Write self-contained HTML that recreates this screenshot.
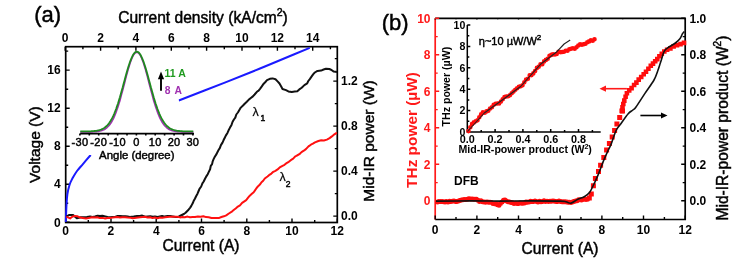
<!DOCTYPE html>
<html><head><meta charset="utf-8"><style>html,body{margin:0;padding:0;background:#fff;overflow:hidden}svg{display:block;filter:blur(0.4px)}</style></head>
<body><svg width="750" height="268" viewBox="0 0 750 268" font-family='"Liberation Sans", sans-serif'>
<rect width="750" height="268" fill="#fff"/>
<g stroke="#000" stroke-width="1.7" fill="none">
<rect x="65.7" y="46.7" width="271.6" height="175.8"/>
<path d="M65.7,222.5 v-4 M88.3,222.5 v-2.5 M111.0,222.5 v-4 M133.6,222.5 v-2.5 M156.2,222.5 v-4 M178.9,222.5 v-2.5 M201.5,222.5 v-4 M224.1,222.5 v-2.5 M246.8,222.5 v-4 M269.4,222.5 v-2.5 M292.0,222.5 v-4 M314.7,222.5 v-2.5 M337.3,222.5 v-4 M65.2,46.7 v4 M82.9,46.7 v2.5 M100.6,46.7 v4 M118.2,46.7 v2.5 M135.9,46.7 v4 M153.6,46.7 v2.5 M171.3,46.7 v4 M189.0,46.7 v2.5 M206.6,46.7 v4 M224.3,46.7 v2.5 M242.0,46.7 v4 M259.7,46.7 v2.5 M277.4,46.7 v4 M295.0,46.7 v2.5 M312.7,46.7 v4 M330.4,46.7 v2.5 M65.7,222.3 h4 M65.7,203.3 h2.5 M65.7,184.3 h4 M65.7,165.2 h2.5 M65.7,146.2 h4 M65.7,127.2 h2.5 M65.7,108.2 h4 M65.7,89.2 h2.5 M65.7,70.1 h4 M65.7,51.1 h2.5 M337.3,216.1 h-4 M337.3,193.6 h-2.5 M337.3,171.1 h-4 M337.3,148.6 h-2.5 M337.3,126.1 h-4 M337.3,103.6 h-2.5 M337.3,81.1 h-4 M337.3,58.6 h-2.5" stroke-width="1.4"/>
</g>
<path d="M65.8,222.0 C65.9,219.2 66.2,209.7 66.5,205.0 C66.8,200.3 66.9,197.3 67.4,194.0 C67.9,190.7 68.7,187.6 69.5,185.0 C70.3,182.4 71.2,180.8 72.4,178.5 C73.7,176.2 75.2,173.4 77.0,171.0 C78.8,168.6 80.6,166.8 82.9,164.1 C85.2,161.4 89.4,156.5 90.7,155.0" stroke="#1a1aff" stroke-width="2" fill="none"/>
<path d="M178.8,100.5 C186.5,97.5 211.3,87.9 224.8,82.6 C238.3,77.3 248.5,73.2 260.0,68.5 C271.5,63.8 285.4,58.0 293.7,54.5 C302.0,51.0 307.0,48.9 309.7,47.8" stroke="#1a1aff" stroke-width="2" fill="none"/>
<path d="M66.4,216.5 L68.9,215.1 L73.1,215.1 L76.8,218.3 L80.9,217.2 L83.8,217.3 L86.9,217.0 L90.1,216.5 L92.5,216.9 L94.9,216.5 L97.6,215.7 L100.1,216.1 L102.4,215.7 L105.2,216.4 L107.6,217.0 L110.1,217.2 L112.4,217.0 L115.0,216.9 L117.7,215.9 L119.8,215.9 L122.8,216.2 L125.3,216.3 L127.7,216.6 L129.9,216.9 L133.7,216.5 L137.1,215.9 L139.7,216.1 L142.2,215.6 L145.2,216.8 L147.7,216.5 L150.3,216.3 L153.0,216.8 L154.9,216.4 L157.7,217.0 L159.8,216.5 L162.1,215.9 L164.6,216.6 L167.6,216.1 L170.1,216.1 L172.8,216.5 L175.6,217.1 L177.9,217.1 L179.9,216.0 L183.9,214.0 L185.6,212.8 L188.0,210.3 L190.2,207.6 L191.3,205.9 L192.7,203.3 L193.6,201.1 L194.9,198.8 L196.1,196.3 L197.5,193.7 L198.4,191.5 L199.5,188.8 L201.2,186.5 L202.4,183.4 L203.7,181.5 L204.9,179.0 L206.5,176.1 L207.7,174.2 L208.8,171.9 L210.1,169.3 L210.8,165.8 L212.1,164.1 L212.7,161.3 L213.6,159.1 L214.8,156.8 L216.5,154.1 L217.4,152.2 L218.7,149.8 L219.8,148.1 L220.9,145.1 L222.5,142.6 L223.5,140.3 L224.9,137.5 L225.8,135.6 L227.6,132.7 L228.9,129.7 L230.0,127.6 L231.5,124.9 L232.5,122.0 L233.9,119.5 L235.3,117.6 L236.3,114.5 L237.9,112.5 L239.5,109.8 L240.8,107.6 L243.0,105.5 L244.7,103.7 L246.8,101.7 L249.1,99.4 L250.5,98.3 L252.9,96.4 L254.6,94.5 L256.9,91.8 L258.6,90.6 L260.2,88.6 L262.0,86.1 L263.7,83.7 L265.4,82.0 L267.0,80.2 L269.9,78.8 L272.6,78.4 L275.5,79.2 L277.8,81.6 L279.5,83.5 L281.2,86.5 L282.5,89.0 L286.0,90.1 L288.4,91.4 L291.8,92.1 L294.7,91.6 L297.3,91.2 L299.3,89.4 L301.7,87.7 L304.4,85.1 L307.2,83.4 L308.3,81.0 L309.8,79.1 L311.5,76.7 L313.3,74.1 L314.8,72.5 L317.5,70.9 L321.1,70.6 L323.6,69.5 L326.0,68.7 L329.4,69.0 L331.8,70.2 L333.8,71.6 L337.0,72.0" stroke="#111" stroke-width="2" fill="none" stroke-linejoin="round"/>
<path d="M66.3,216.6 L70.1,218.4 L72.2,216.8 L74.9,215.9 L77.6,216.3 L80.2,217.6 L82.7,217.9 L86.0,218.4 L88.7,218.1 L91.8,217.2 L95.0,217.4 L97.2,217.3 L99.9,218.1 L102.7,217.9 L105.2,218.5 L107.4,218.0 L109.8,217.9 L112.6,217.6 L115.1,217.2 L117.7,217.1 L119.9,217.4 L122.4,217.2 L125.1,217.3 L127.6,217.6 L130.7,217.7 L132.8,218.3 L136.2,217.8 L140.1,217.3 L142.5,217.1 L145.0,216.8 L147.6,217.5 L150.1,217.2 L152.6,218.1 L154.8,217.6 L157.5,218.2 L159.9,217.5 L162.4,217.7 L165.1,217.2 L167.4,216.9 L169.9,216.7 L172.2,216.8 L174.9,216.8 L177.3,216.7 L180.1,217.4 L182.3,217.1 L184.8,217.2 L187.6,216.6 L189.9,217.2 L192.9,216.9 L195.0,217.0 L197.9,216.5 L200.6,216.7 L203.3,216.2 L206.1,217.1 L208.7,217.2 L211.5,218.0 L214.2,218.0 L216.5,217.9 L219.3,217.9 L221.4,217.0 L223.9,216.3 L226.2,215.3 L228.9,213.5 L232.2,211.3 L234.0,209.8 L235.7,208.5 L237.9,206.6 L240.0,205.4 L242.1,202.9 L244.0,201.6 L246.2,200.1 L248.1,197.7 L249.8,195.7 L251.6,194.1 L253.7,192.3 L255.0,190.4 L256.6,188.0 L258.4,185.9 L259.9,184.6 L261.5,182.3 L263.2,180.8 L264.8,178.5 L267.5,176.5 L269.0,175.2 L271.4,173.6 L273.3,171.8 L275.4,170.8 L277.6,169.4 L280.2,167.1 L282.5,165.8 L284.5,164.8 L286.1,163.4 L288.8,161.8 L290.8,160.2 L293.2,158.7 L295.0,156.7 L297.0,155.5 L299.4,154.2 L301.5,152.1 L303.8,150.7 L305.9,149.1 L308.5,146.4 L310.9,144.7 L312.9,143.7 L315.0,142.4 L318.4,141.0 L321.2,140.3 L323.9,140.5 L326.9,139.6 L329.6,138.1 L331.9,136.4 L334.4,134.3 L335.9,133.3 L337.0,133.0" stroke="#ff1010" stroke-width="2" fill="none" stroke-linejoin="round"/>
<rect x="78" y="52" width="100.5" height="103" fill="#fff"/>
<path d="M80.3,132.0 L81.3,132.0 L82.2,132.0 L83.1,132.0 L84.1,132.0 L85.0,132.0 L86.0,132.0 L86.9,132.0 L87.8,132.0 L88.8,132.0 L89.7,131.9 L90.7,131.9 L91.6,131.9 L92.5,131.9 L93.5,131.8 L94.4,131.8 L95.4,131.7 L96.3,131.6 L97.3,131.5 L98.2,131.4 L99.1,131.2 L100.1,131.0 L101.0,130.8 L102.0,130.5 L102.9,130.1 L103.8,129.7 L104.8,129.2 L105.7,128.5 L106.7,127.8 L107.6,127.0 L108.6,126.0 L109.5,124.9 L110.4,123.7 L111.4,122.3 L112.3,120.6 L113.3,118.8 L114.2,116.9 L115.1,114.7 L116.1,112.3 L117.0,109.6 L118.0,106.8 L118.9,103.8 L119.9,100.7 L120.8,97.4 L121.7,93.9 L122.7,90.3 L123.6,86.7 L124.6,83.0 L125.5,79.4 L126.4,75.8 L127.4,72.3 L128.3,68.9 L129.3,65.7 L130.2,62.8 L131.2,60.2 L132.1,57.8 L133.0,55.9 L134.0,54.3 L134.9,53.2 L135.9,52.5 L136.8,52.3 L137.7,52.5 L138.7,53.2 L139.6,54.3 L140.6,55.9 L141.5,57.8 L142.4,60.2 L143.4,62.8 L144.3,65.7 L145.3,68.9 L146.2,72.3 L147.2,75.8 L148.1,79.4 L149.0,83.0 L150.0,86.7 L150.9,90.3 L151.9,93.9 L152.8,97.4 L153.7,100.7 L154.7,103.8 L155.6,106.8 L156.6,109.6 L157.5,112.3 L158.5,114.7 L159.4,116.9 L160.3,118.8 L161.3,120.6 L162.2,122.3 L163.2,123.7 L164.1,124.9 L165.0,126.0 L166.0,127.0 L166.9,127.8 L167.9,128.5 L168.8,129.2 L169.8,129.7 L170.7,130.1 L171.6,130.5 L172.6,130.8 L173.5,131.0 L174.5,131.2 L175.4,131.4 L176.3,131.5 L177.3,131.6 L178.2,131.7 L179.2,131.8 L180.1,131.8 L181.1,131.9 L182.0,131.9 L182.9,131.9 L183.9,131.9 L184.8,132.0 L185.8,132.0 L186.7,132.0 L187.6,132.0 L188.6,132.0 L189.5,132.0 L190.5,132.0 L191.4,132.0 L192.3,132.0 L193.3,132.0" stroke="#a030b0" stroke-width="1.6" fill="none"/>
<path d="M80.3,131.4 L81.3,131.4 L82.2,131.4 L83.1,131.4 L84.1,131.4 L85.0,131.4 L86.0,131.4 L86.9,131.3 L87.8,131.3 L88.8,131.3 L89.7,131.3 L90.7,131.3 L91.6,131.2 L92.5,131.2 L93.5,131.1 L94.4,131.0 L95.4,130.9 L96.3,130.8 L97.3,130.6 L98.2,130.4 L99.1,130.2 L100.1,129.9 L101.0,129.6 L102.0,129.2 L102.9,128.7 L103.8,128.2 L104.8,127.6 L105.7,126.8 L106.7,126.0 L107.6,125.0 L108.6,123.9 L109.5,122.6 L110.4,121.2 L111.4,119.6 L112.3,117.9 L113.3,115.9 L114.2,113.8 L115.1,111.5 L116.1,109.0 L117.0,106.3 L118.0,103.5 L118.9,100.5 L119.9,97.3 L120.8,94.0 L121.7,90.7 L122.7,87.2 L123.6,83.7 L124.6,80.2 L125.5,76.8 L126.4,73.4 L127.4,70.1 L128.3,67.0 L129.3,64.0 L130.2,61.3 L131.2,58.9 L132.1,56.8 L133.0,55.0 L134.0,53.6 L134.9,52.5 L135.9,51.9 L136.8,51.7 L137.7,51.9 L138.7,52.5 L139.6,53.6 L140.6,55.0 L141.5,56.8 L142.4,58.9 L143.4,61.3 L144.3,64.0 L145.3,67.0 L146.2,70.1 L147.2,73.4 L148.1,76.8 L149.0,80.2 L150.0,83.7 L150.9,87.2 L151.9,90.7 L152.8,94.0 L153.7,97.3 L154.7,100.5 L155.6,103.5 L156.6,106.3 L157.5,109.0 L158.5,111.5 L159.4,113.8 L160.3,115.9 L161.3,117.9 L162.2,119.6 L163.2,121.2 L164.1,122.6 L165.0,123.9 L166.0,125.0 L166.9,126.0 L167.9,126.8 L168.8,127.6 L169.8,128.2 L170.7,128.7 L171.6,129.2 L172.6,129.6 L173.5,129.9 L174.5,130.2 L175.4,130.4 L176.3,130.6 L177.3,130.8 L178.2,130.9 L179.2,131.0 L180.1,131.1 L181.1,131.2 L182.0,131.2 L182.9,131.3 L183.9,131.3 L184.8,131.3 L185.8,131.3 L186.7,131.3 L187.6,131.4 L188.6,131.4 L189.5,131.4 L190.5,131.4 L191.4,131.4 L192.3,131.4 L193.3,131.4" stroke="#1f8a1f" stroke-width="1.8" fill="none"/>
<path d="M80.2,133.6 H194 M79.9,133.6 v2 M89.3,133.6 v2 M98.7,133.6 v2 M108.2,133.6 v2 M117.6,133.6 v2 M127.0,133.6 v2 M136.4,133.6 v2 M145.8,133.6 v2 M155.2,133.6 v2 M164.6,133.6 v2 M174.1,133.6 v2 M183.5,133.6 v2 M192.9,133.6 v2" stroke="#000" stroke-width="1.6" fill="none"/>
<path d="M161,90.7 V77" stroke="#000" stroke-width="1.9"/>
<path d="M157.9,79.2 L161,71.5 L164.1,79.2 Z" fill="#000"/>
<path d="M435.2,219.5 H685.2 V18.4 H435.2" stroke="#000" stroke-width="1.7" fill="none"/>
<path d="M435.2,18.4 V219.5" stroke="#ff1a1a" stroke-width="1.7" fill="none"/>
<path d="M435.2,219.5 v-4 M435.2,18.4 v1.2 M456.0,219.5 v-2.5 M456.0,18.4 v0.75 M476.9,219.5 v-4 M476.9,18.4 v1.2 M497.7,219.5 v-2.5 M497.7,18.4 v0.75 M518.5,219.5 v-4 M518.5,18.4 v1.2 M539.4,219.5 v-2.5 M539.4,18.4 v0.75 M560.2,219.5 v-4 M560.2,18.4 v1.2 M581.0,219.5 v-2.5 M581.0,18.4 v0.75 M601.9,219.5 v-4 M601.9,18.4 v1.2 M622.7,219.5 v-2.5 M622.7,18.4 v0.75 M643.5,219.5 v-4 M643.5,18.4 v1.2 M664.4,219.5 v-2.5 M664.4,18.4 v0.75 M685.2,219.5 v-4 M685.2,18.4 v1.2 M685.2,200.8 h-4 M685.2,182.6 h-2.5 M685.2,164.3 h-4 M685.2,146.1 h-2.5 M685.2,127.8 h-4 M685.2,109.6 h-2.5 M685.2,91.3 h-4 M685.2,73.1 h-2.5 M685.2,54.8 h-4 M685.2,36.6 h-2.5 M685.2,18.3 h-4" stroke="#000" stroke-width="1.4" fill="none"/>
<path d="M435.2,200.8 h4 M435.2,182.6 h2.5 M435.2,164.3 h4 M435.2,146.1 h2.5 M435.2,127.8 h4 M435.2,109.6 h2.5 M435.2,91.3 h4 M435.2,73.1 h2.5 M435.2,54.8 h4 M435.2,36.6 h2.5 M435.2,18.3 h4" stroke="#ff1a1a" stroke-width="1.4" fill="none"/>
<path d="M437.5,202.0h0 M439.0,201.6h0 M440.5,201.5h0 M442.0,201.6h0 M443.5,201.7h0 M445.0,202.0h0 M446.5,201.6h0 M448.0,202.0h0 M449.5,201.3h0 M451.0,201.4h0 M452.5,201.2h0 M454.0,201.1h0 M455.5,201.6h0 M457.0,201.4h0 M458.5,200.9h0 M460.0,200.5h0 M461.5,200.1h0 M463.0,199.8h0 M464.5,199.5h0 M466.0,199.4h0 M467.5,199.3h0 M469.0,198.8h0 M470.5,199.1h0 M472.0,198.9h0 M473.5,199.2h0 M475.0,199.3h0 M476.5,199.3h0 M478.0,200.2h0 M479.5,201.4h0 M481.0,200.8h0 M482.5,201.7h0 M484.0,201.9h0 M485.5,202.2h0 M487.0,201.9h0 M488.5,202.2h0 M490.0,202.3h0 M491.5,202.6h0 M493.0,203.4h0 M494.5,203.7h0 M496.0,203.5h0 M497.5,204.8h0 M499.0,205.2h0 M500.5,203.6h0 M502.0,201.9h0 M503.5,200.2h0 M505.0,200.0h0 M506.5,200.9h0 M508.0,201.7h0 M509.5,202.0h0 M511.0,202.4h0 M512.5,202.8h0 M514.0,203.6h0 M515.5,203.2h0 M517.0,203.5h0 M518.5,203.5h0 M520.0,203.1h0 M521.5,203.2h0 M523.0,203.3h0 M524.5,203.0h0 M526.0,201.9h0 M527.5,202.2h0 M529.0,201.9h0 M530.5,201.2h0 M532.0,201.5h0 M533.5,201.4h0 M535.0,201.1h0 M536.5,201.5h0 M538.0,201.9h0 M539.5,201.2h0 M541.0,201.7h0 M542.5,201.4h0 M544.0,200.8h0 M545.5,201.6h0 M547.0,201.3h0 M548.5,201.6h0 M550.0,201.3h0 M551.5,201.3h0 M553.0,200.9h0 M554.5,201.3h0 M556.0,201.4h0 M557.5,201.4h0 M559.0,201.0h0 M560.5,201.6h0 M562.0,201.7h0 M563.5,201.7h0 M565.0,201.7h0 M566.5,201.9h0 M568.0,202.2h0 M569.5,202.3h0 M571.0,202.5h0 M572.5,202.1h0 M574.0,201.4h0 M575.5,201.1h0 M577.0,200.8h0 M578.5,199.8h0 M580.0,199.7h0 M581.5,199.9h0 M583.0,199.4h0 M584.5,199.0h0 M586.0,199.6h0 M587.5,199.2h0" stroke="#ff0c0c" stroke-width="5" stroke-linecap="round" fill="none"/>
<path d="M586.8,195.6h5v5h-5z M588.8,191.5h5v5h-5z M590.9,183.3h5v5h-5z M592.9,176.1h5v5h-5z M596.0,168.9h5v5h-5z M598.1,162.8h5v5h-5z M601.3,155.0h5v5h-5z M604.1,147.5h5v5h-5z M606.9,141.0h5v5h-5z M609.7,134.5h5v5h-5z M612.1,128.0h5v5h-5z M614.4,121.5h5v5h-5z M617.2,115.0h5v5h-5z M620.0,108.5h5v5h-5z" fill="#ff0c0c" stroke="none"/>
<path d="M619.4,108.6h4.6v4.6h-4.6z M620.2,105.1h4.6v4.6h-4.6z M621.0,101.7h4.6v4.6h-4.6z M622.0,98.3h4.6v4.6h-4.6z M623.3,94.5h4.6v4.6h-4.6z M624.6,90.9h4.6v4.6h-4.6z M626.9,88.1h4.6v4.6h-4.6z M629.3,85.8h4.6v4.6h-4.6z M631.8,82.7h4.6v4.6h-4.6z M634.1,80.3h4.6v4.6h-4.6z M636.4,77.3h4.6v4.6h-4.6z M638.9,74.7h4.6v4.6h-4.6z M641.4,72.0h4.6v4.6h-4.6z M643.7,69.4h4.6v4.6h-4.6z M646.1,66.4h4.6v4.6h-4.6z M648.5,63.5h4.6v4.6h-4.6z M650.7,61.3h4.6v4.6h-4.6z M652.9,59.0h4.6v4.6h-4.6z M655.0,56.8h4.6v4.6h-4.6z M657.1,54.0h4.6v4.6h-4.6z M659.5,51.4h4.6v4.6h-4.6z M662.0,49.2h4.6v4.6h-4.6z M664.8,47.5h4.6v4.6h-4.6z M668.1,46.1h4.6v4.6h-4.6z M671.3,44.1h4.6v4.6h-4.6z M674.7,43.0h4.6v4.6h-4.6z M678.2,41.8h4.6v4.6h-4.6z M681.7,40.6h4.6v4.6h-4.6z" fill="#ff0c0c" stroke="none"/>
<path d="M436.0,201.1 C441.7,201.1 459.3,200.9 470.0,200.9 C480.7,200.9 490.0,201.1 500.0,201.1 C510.0,201.1 520.0,200.9 530.0,200.9 C540.0,200.9 554.0,200.9 560.0,201.1 C566.0,201.2 564.3,201.4 566.0,201.8 C567.7,202.2 568.9,203.4 570.4,203.3 C571.9,203.2 573.7,201.7 575.0,201.0 C576.3,200.3 576.7,199.8 578.2,199.1 C579.8,198.4 582.4,197.8 584.3,196.7 C586.2,195.6 588.0,194.3 589.5,192.5 C591.0,190.7 591.6,188.8 593.0,186.0 C594.4,183.2 596.1,179.7 597.9,175.4 C599.7,171.1 602.0,164.6 603.7,160.4 C605.4,156.2 607.0,152.8 608.3,150.0 C609.6,147.2 610.1,146.8 611.4,143.5 C612.7,140.2 614.5,133.8 616.1,130.5 C617.7,127.2 618.7,126.8 620.7,124.0 C622.7,121.2 626.2,116.0 628.2,113.7 C630.2,111.4 631.6,111.1 632.9,110.0 C634.2,108.9 634.0,109.7 636.0,107.0 C638.0,104.3 641.8,98.1 644.8,93.6 C647.8,89.1 651.9,83.8 654.0,80.0 C656.1,76.2 656.6,73.9 657.7,71.0 C658.8,68.1 659.4,65.9 660.5,62.6 C661.6,59.3 663.0,53.7 664.3,51.2 C665.5,48.7 666.1,49.1 668.0,47.7 C669.9,46.3 673.4,44.5 675.4,43.0 C677.4,41.5 678.9,39.9 680.1,38.4 C681.3,36.9 681.8,34.9 682.5,33.7 C683.2,32.6 684.0,31.9 684.3,31.5" stroke="#111" stroke-width="1.6" fill="none"/>
<path d="M626.9,88.7 H604" stroke="#ff1a1a" stroke-width="1.6"/>
<path d="M606,85.6 L599.5,88.7 L606,91.8 Z" fill="#ff1a1a"/>
<path d="M640.4,115.5 H663" stroke="#000" stroke-width="1.6"/>
<path d="M661,112.4 L667.5,115.5 L661,118.6 Z" fill="#000"/>
<path d="M467.3,25 V132 H600.7 M467.3,132.0 h3 M467.3,121.3 h2 M467.3,110.6 h3 M467.3,99.9 h2 M467.3,89.2 h3 M467.3,78.5 h2 M467.3,67.8 h3 M467.3,57.1 h2 M467.3,46.4 h3 M467.3,35.7 h2 M467.3,25.0 h3 M481.2,132 v-2 M495.1,132 v-3 M509.0,132 v-2 M522.9,132 v-3 M536.8,132 v-2 M550.7,132 v-3 M564.6,132 v-2 M578.5,132 v-3 M592.4,132 v-2" stroke="#000" stroke-width="1.5" fill="none"/>
<path d="M468.5,131.1h0 M470.3,127.3h0 M472.1,123.9h0 M473.9,122.4h0 M475.7,121.3h0 M477.5,120.3h0 M479.3,117.3h0 M481.1,114.4h0 M482.9,112.3h0 M484.7,112.8h0 M486.5,111.4h0 M488.3,110.8h0 M490.1,108.5h0 M491.9,107.3h0 M493.7,104.8h0 M495.5,103.7h0 M497.3,103.5h0 M499.1,103.4h0 M500.9,101.6h0 M502.7,99.2h0 M504.5,97.0h0 M506.3,96.5h0 M508.1,96.3h0 M509.9,95.3h0 M511.7,93.2h0 M513.5,91.6h0 M515.3,89.8h0 M517.1,88.2h0 M518.9,86.7h0 M520.7,86.3h0 M522.5,85.3h0 M524.3,82.3h0 M526.1,79.5h0 M527.9,78.8h0 M529.7,75.3h0 M531.5,75.1h0 M533.3,73.4h0 M535.1,71.0h0 M536.9,67.9h0 M538.7,66.7h0 M540.5,64.2h0 M542.3,64.2h0 M544.1,61.4h0 M545.9,59.9h0 M547.7,58.7h0 M549.5,55.7h0 M551.3,54.9h0 M553.1,54.4h0 M554.9,54.5h0 M556.7,54.0h0 M558.5,51.8h0 M560.3,52.1h0 M562.1,52.0h0 M563.9,51.8h0 M565.7,50.8h0 M567.5,50.7h0 M569.3,49.2h0 M571.1,48.7h0 M572.9,48.2h0 M574.7,48.7h0 M576.5,47.2h0 M578.3,45.5h0 M580.1,44.3h0 M581.9,44.8h0 M583.7,44.3h0 M585.5,43.7h0 M587.3,42.2h0 M589.1,41.4h0 M590.9,40.2h0 M592.7,40.7h0 M594.5,39.3h0" stroke="#ff0c0c" stroke-width="4.6" stroke-linecap="round" fill="none"/>
<path d="M467.5,131.5 L484.3,113 L508.5,95.5 L520.6,86.5 L540.5,64.3 L556.9,51.7 L564.1,44 L570.2,40" stroke="#222" stroke-width="1.1" fill="none" stroke-linejoin="round"/>
<g><text x="34.2" y="21.6" font-size="22" font-weight="normal" text-anchor="start" fill="#000" stroke="#000" stroke-width="0.45">(a)</text>
<text x="381.8" y="29.8" font-size="22" font-weight="normal" text-anchor="start" fill="#000" stroke="#000" stroke-width="0.45">(b)</text>
<text x="203" y="22.8" font-size="15.6" font-weight="normal" text-anchor="middle" fill="#000" stroke="#000" stroke-width="0.45">Current density (kA/cm<tspan font-size="10.5" dy="-6.5">2</tspan><tspan dy="6.5">)</tspan></text>
<text x="65.2" y="41.8" font-size="12" font-weight="bold" text-anchor="middle" fill="#000" stroke="#000" stroke-width="0">0</text>
<text x="100.56" y="41.8" font-size="12" font-weight="bold" text-anchor="middle" fill="#000" stroke="#000" stroke-width="0">2</text>
<text x="135.92000000000002" y="41.8" font-size="12" font-weight="bold" text-anchor="middle" fill="#000" stroke="#000" stroke-width="0">4</text>
<text x="171.28" y="41.8" font-size="12" font-weight="bold" text-anchor="middle" fill="#000" stroke="#000" stroke-width="0">6</text>
<text x="206.64" y="41.8" font-size="12" font-weight="bold" text-anchor="middle" fill="#000" stroke="#000" stroke-width="0">8</text>
<text x="242.0" y="41.8" font-size="12" font-weight="bold" text-anchor="middle" fill="#000" stroke="#000" stroke-width="0">10</text>
<text x="277.36" y="41.8" font-size="12" font-weight="bold" text-anchor="middle" fill="#000" stroke="#000" stroke-width="0">12</text>
<text x="312.71999999999997" y="41.8" font-size="12" font-weight="bold" text-anchor="middle" fill="#000" stroke="#000" stroke-width="0">14</text>
<text x="65.7" y="235.3" font-size="12" font-weight="bold" text-anchor="middle" fill="#000" stroke="#000" stroke-width="0">0</text>
<text x="110.96666666666667" y="235.3" font-size="12" font-weight="bold" text-anchor="middle" fill="#000" stroke="#000" stroke-width="0">2</text>
<text x="156.23333333333335" y="235.3" font-size="12" font-weight="bold" text-anchor="middle" fill="#000" stroke="#000" stroke-width="0">4</text>
<text x="201.5" y="235.3" font-size="12" font-weight="bold" text-anchor="middle" fill="#000" stroke="#000" stroke-width="0">6</text>
<text x="246.7666666666667" y="235.3" font-size="12" font-weight="bold" text-anchor="middle" fill="#000" stroke="#000" stroke-width="0">8</text>
<text x="292.03333333333336" y="235.3" font-size="12" font-weight="bold" text-anchor="middle" fill="#000" stroke="#000" stroke-width="0">10</text>
<text x="337.3" y="235.3" font-size="12" font-weight="bold" text-anchor="middle" fill="#000" stroke="#000" stroke-width="0">12</text>
<text x="201" y="250.6" font-size="15.6" font-weight="normal" text-anchor="middle" fill="#000" stroke="#000" stroke-width="0.45">Current (A)</text>
<text x="60.7" y="226.5" font-size="12" font-weight="bold" text-anchor="end" fill="#000" stroke="#000" stroke-width="0">0</text>
<text x="60.7" y="188.46" font-size="12" font-weight="bold" text-anchor="end" fill="#000" stroke="#000" stroke-width="0">4</text>
<text x="60.7" y="150.42000000000002" font-size="12" font-weight="bold" text-anchor="end" fill="#000" stroke="#000" stroke-width="0">8</text>
<text x="60.7" y="112.38000000000001" font-size="12" font-weight="bold" text-anchor="end" fill="#000" stroke="#000" stroke-width="0">12</text>
<text x="60.7" y="74.34000000000002" font-size="12" font-weight="bold" text-anchor="end" fill="#000" stroke="#000" stroke-width="0">16</text>
<text x="341" y="220.29999999999998" font-size="12" font-weight="bold" text-anchor="start" fill="#000" stroke="#000" stroke-width="0">0.0</text>
<text x="341" y="175.29999999999998" font-size="12" font-weight="bold" text-anchor="start" fill="#000" stroke="#000" stroke-width="0">0.4</text>
<text x="341" y="130.29999999999998" font-size="12" font-weight="bold" text-anchor="start" fill="#000" stroke="#000" stroke-width="0">0.8</text>
<text x="341" y="85.29999999999997" font-size="12" font-weight="bold" text-anchor="start" fill="#000" stroke="#000" stroke-width="0">1.2</text>
<text x="40.4" y="144.6" font-size="15.5" font-weight="normal" text-anchor="middle" fill="#000" stroke="#000" stroke-width="0.45" transform="rotate(-90 40.4 144.6)">Voltage (V)</text>
<text x="374.3" y="141" font-size="15.5" font-weight="normal" text-anchor="middle" fill="#000" stroke="#000" stroke-width="0.45" transform="rotate(-90 374.3 141)">Mid-IR power (W)</text>
<text x="79.91" y="145.8" font-size="11" font-weight="normal" text-anchor="middle" fill="#000" stroke="#000" stroke-width="0.45" letter-spacing="0.3">-30</text>
<text x="98.74000000000001" y="145.8" font-size="11" font-weight="normal" text-anchor="middle" fill="#000" stroke="#000" stroke-width="0.45" letter-spacing="0.3">-20</text>
<text x="117.57000000000001" y="145.8" font-size="11" font-weight="normal" text-anchor="middle" fill="#000" stroke="#000" stroke-width="0.45" letter-spacing="0.3">-10</text>
<text x="136.4" y="145.8" font-size="11" font-weight="normal" text-anchor="middle" fill="#000" stroke="#000" stroke-width="0.45" letter-spacing="0.3">0</text>
<text x="155.23000000000002" y="145.8" font-size="11" font-weight="normal" text-anchor="middle" fill="#000" stroke="#000" stroke-width="0.45" letter-spacing="0.3">10</text>
<text x="174.06" y="145.8" font-size="11" font-weight="normal" text-anchor="middle" fill="#000" stroke="#000" stroke-width="0.45" letter-spacing="0.3">20</text>
<text x="192.89000000000001" y="145.8" font-size="11" font-weight="normal" text-anchor="middle" fill="#000" stroke="#000" stroke-width="0.45" letter-spacing="0.3">30</text>
<text x="136.8" y="159" font-size="11.4" font-weight="normal" text-anchor="middle" fill="#000" stroke="#000" stroke-width="0.45">Angle (degree)</text>
<text x="164.6" y="77" font-size="10.5" font-weight="bold" text-anchor="start" fill="#1f9a1f" stroke="#1f9a1f" stroke-width="0">11 A</text>
<text x="164.8" y="93.6" font-size="10.3" font-weight="bold" text-anchor="start" fill="#a030b0" stroke="#a030b0" stroke-width="0" letter-spacing="0.8">8 A</text>
<text x="252.6" y="115.8" font-size="12.5" font-weight="normal" text-anchor="start" fill="#000" stroke="#000" stroke-width="0.45" stroke-opacity="0.4">&#955;</text>
<text x="260.5" y="121" font-size="8.5" font-weight="normal" text-anchor="start" fill="#000" stroke="#000" stroke-width="0.45">1</text>
<text x="279.5" y="180.8" font-size="12.5" font-weight="normal" text-anchor="start" fill="#000" stroke="#000" stroke-width="0.45" stroke-opacity="0.4">&#955;</text>
<text x="285.8" y="186.9" font-size="8.5" font-weight="normal" text-anchor="start" fill="#000" stroke="#000" stroke-width="0.45">2</text>
<text x="430.5" y="205.0" font-size="12" font-weight="bold" text-anchor="end" fill="#ff1a1a" stroke="#ff1a1a" stroke-width="0">0</text>
<text x="430.5" y="168.5" font-size="12" font-weight="bold" text-anchor="end" fill="#ff1a1a" stroke="#ff1a1a" stroke-width="0">2</text>
<text x="430.5" y="132.0" font-size="12" font-weight="bold" text-anchor="end" fill="#ff1a1a" stroke="#ff1a1a" stroke-width="0">4</text>
<text x="430.5" y="95.50000000000001" font-size="12" font-weight="bold" text-anchor="end" fill="#ff1a1a" stroke="#ff1a1a" stroke-width="0">6</text>
<text x="430.5" y="59.000000000000014" font-size="12" font-weight="bold" text-anchor="end" fill="#ff1a1a" stroke="#ff1a1a" stroke-width="0">8</text>
<text x="430.5" y="22.50000000000001" font-size="12" font-weight="bold" text-anchor="end" fill="#ff1a1a" stroke="#ff1a1a" stroke-width="0">10</text>
<text x="689.5" y="205.0" font-size="12" font-weight="bold" text-anchor="start" fill="#000" stroke="#000" stroke-width="0">0.0</text>
<text x="689.5" y="168.5" font-size="12" font-weight="bold" text-anchor="start" fill="#000" stroke="#000" stroke-width="0">0.2</text>
<text x="689.5" y="132.0" font-size="12" font-weight="bold" text-anchor="start" fill="#000" stroke="#000" stroke-width="0">0.4</text>
<text x="689.5" y="95.50000000000001" font-size="12" font-weight="bold" text-anchor="start" fill="#000" stroke="#000" stroke-width="0">0.6</text>
<text x="689.5" y="59.000000000000014" font-size="12" font-weight="bold" text-anchor="start" fill="#000" stroke="#000" stroke-width="0">0.8</text>
<text x="689.5" y="22.50000000000001" font-size="12" font-weight="bold" text-anchor="start" fill="#000" stroke="#000" stroke-width="0">1.0</text>
<text x="435.2" y="233.8" font-size="12" font-weight="bold" text-anchor="middle" fill="#000" stroke="#000" stroke-width="0">0</text>
<text x="476.8666666666667" y="233.8" font-size="12" font-weight="bold" text-anchor="middle" fill="#000" stroke="#000" stroke-width="0">2</text>
<text x="518.5333333333333" y="233.8" font-size="12" font-weight="bold" text-anchor="middle" fill="#000" stroke="#000" stroke-width="0">4</text>
<text x="560.2" y="233.8" font-size="12" font-weight="bold" text-anchor="middle" fill="#000" stroke="#000" stroke-width="0">6</text>
<text x="601.8666666666667" y="233.8" font-size="12" font-weight="bold" text-anchor="middle" fill="#000" stroke="#000" stroke-width="0">8</text>
<text x="643.5333333333333" y="233.8" font-size="12" font-weight="bold" text-anchor="middle" fill="#000" stroke="#000" stroke-width="0">10</text>
<text x="685.2" y="233.8" font-size="12" font-weight="bold" text-anchor="middle" fill="#000" stroke="#000" stroke-width="0">12</text>
<text x="560" y="254" font-size="15.6" font-weight="normal" text-anchor="middle" fill="#000" stroke="#000" stroke-width="0.45">Current (A)</text>
<text x="416.8" y="130" font-size="15.4" font-weight="bold" text-anchor="middle" fill="#ff1a1a" stroke="#ff1a1a" stroke-width="0" transform="rotate(-90 416.8 130)">THz power (&#181;W)</text>
<text x="727.8" y="128.1" font-size="15.6" font-weight="normal" text-anchor="middle" fill="#000" stroke="#000" stroke-width="0.45" transform="rotate(-90 727.8 128.1)">Mid-IR-power product (W<tspan font-size="10" dy="-6.5">2</tspan><tspan dy="6.5">)</tspan></text>
<text x="454" y="185" font-size="12" font-weight="bold" text-anchor="start" fill="#000" stroke="#000" stroke-width="0">DFB</text>
<text x="465.4" y="135.8" font-size="10.6" font-weight="bold" text-anchor="end" fill="#000" stroke="#000" stroke-width="0">0</text>
<text x="465.4" y="114.39999999999999" font-size="10.6" font-weight="bold" text-anchor="end" fill="#000" stroke="#000" stroke-width="0">2</text>
<text x="465.4" y="93.0" font-size="10.6" font-weight="bold" text-anchor="end" fill="#000" stroke="#000" stroke-width="0">4</text>
<text x="465.4" y="71.60000000000001" font-size="10.6" font-weight="bold" text-anchor="end" fill="#000" stroke="#000" stroke-width="0">6</text>
<text x="465.4" y="50.2" font-size="10.6" font-weight="bold" text-anchor="end" fill="#000" stroke="#000" stroke-width="0">8</text>
<text x="465.4" y="28.8" font-size="10.6" font-weight="bold" text-anchor="end" fill="#000" stroke="#000" stroke-width="0">10</text>
<text x="467.3" y="143.4" font-size="10.8" font-weight="bold" text-anchor="middle" fill="#000" stroke="#000" stroke-width="0">0.0</text>
<text x="495.1" y="143.4" font-size="10.8" font-weight="bold" text-anchor="middle" fill="#000" stroke="#000" stroke-width="0">0.2</text>
<text x="522.9" y="143.4" font-size="10.8" font-weight="bold" text-anchor="middle" fill="#000" stroke="#000" stroke-width="0">0.4</text>
<text x="550.7" y="143.4" font-size="10.8" font-weight="bold" text-anchor="middle" fill="#000" stroke="#000" stroke-width="0">0.6</text>
<text x="578.5" y="143.4" font-size="10.8" font-weight="bold" text-anchor="middle" fill="#000" stroke="#000" stroke-width="0">0.8</text>
<text x="525.2" y="152.6" font-size="10.6" font-weight="bold" text-anchor="middle" fill="#000" stroke="#000" stroke-width="0">Mid-IR-power product (W<tspan font-size="7" dy="-4">2</tspan><tspan dy="4">)</tspan></text>
<text x="450.4" y="86.6" font-size="10.6" font-weight="bold" text-anchor="middle" fill="#000" stroke="#000" stroke-width="0" transform="rotate(-90 450.4 86.6)">THz power (&#181;W)</text>
<text x="478.8" y="44.8" font-size="11" font-weight="normal" text-anchor="start" fill="#000" stroke="#000" stroke-width="0.45">&#951;~10 &#181;W/W<tspan font-size="8" dy="-4.5">2</tspan></text></g>
</svg></body></html>
